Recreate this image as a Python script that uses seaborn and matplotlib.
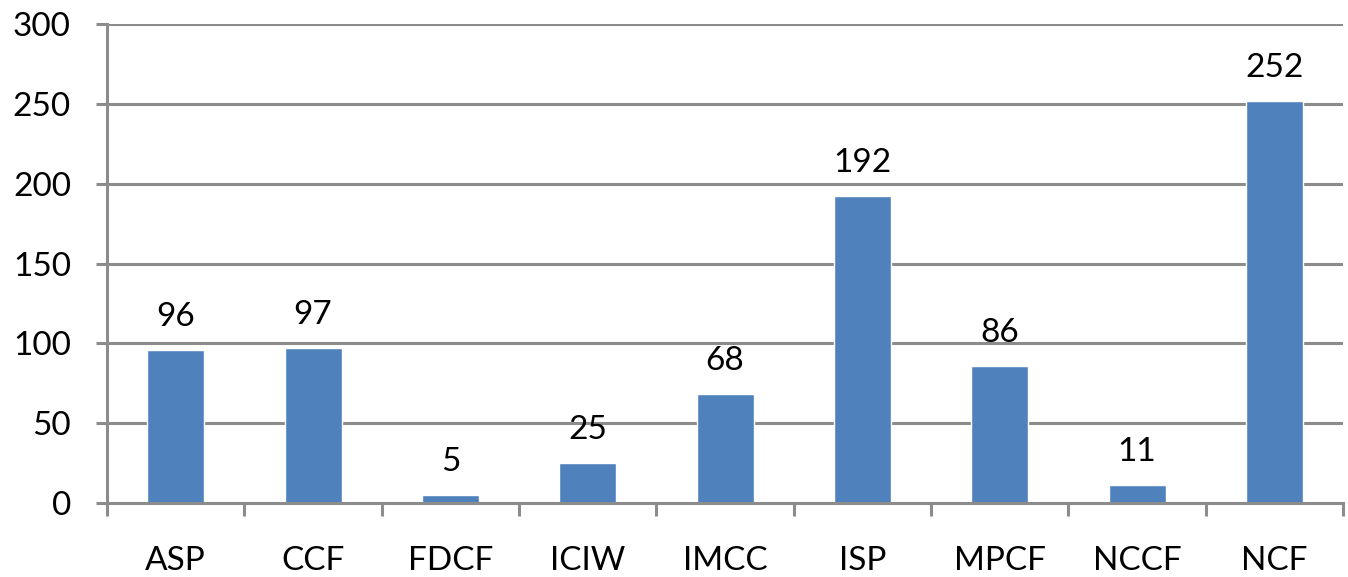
import matplotlib
matplotlib.use("Agg")
import matplotlib.pyplot as plt
import seaborn as sns
import pandas as pd
from matplotlib.ticker import FixedLocator

categories = ["ASP", "CCF", "FDCF", "ICIW", "IMCC", "ISP", "MPCF", "NCCF", "NCF"]
counts = [96, 97, 5, 25, 68, 192, 86, 11, 252]
y_ticks = [0, 50, 100, 150, 200, 250, 300]

df = pd.DataFrame({"category": categories, "count": counts})

sns.set_theme(style="white")
plt.rcParams["font.family"] = ["Lato", "DejaVu Sans"]

fig = plt.figure(figsize=(13.48, 5.77), dpi=100)
ax = fig.add_axes([0.0794, 0.1282, 0.9169, 0.8302])

bar_color = "#4F81BD"
grid_color = "#8C8C8C"

sns.barplot(data=df, x="category", y="count", color=bar_color, width=0.415,
            saturation=1, ax=ax, zorder=3)

ax.set_xlim(-0.5, len(categories) - 0.5)
ax.set_ylim(0, 300)
ax.set_yticks(y_ticks)
ax.set_yticklabels([str(v) for v in y_ticks])

for v in y_ticks[1:]:
    ax.axhline(v, color=grid_color, lw=2.2, zorder=1)

for s in ["top", "right"]:
    ax.spines[s].set_visible(False)
for s in ["left", "bottom"]:
    ax.spines[s].set_color(grid_color)
    ax.spines[s].set_linewidth(2.2)
    ax.spines[s].set_zorder(4)

ax.tick_params(axis="y", which="major", length=8, width=2.2, color=grid_color,
               pad=18, labelsize=24, labelcolor="black", left=True)
ax.tick_params(axis="x", which="major", length=0, pad=31, labelsize=24,
               labelcolor="black")
ax.xaxis.set_minor_locator(FixedLocator([i - 0.5 for i in range(len(categories) + 1)]))
ax.tick_params(axis="x", which="minor", length=9, width=2.2, color=grid_color,
               bottom=True, direction="out")
ax.set_xlabel("")
ax.set_ylabel("")

for i, v in enumerate(counts):
    ax.annotate(str(v), (i, v), xytext=(0, 13), textcoords="offset points",
                ha="center", va="bottom", fontsize=24, color="black")

fig.savefig("out.png", dpi=100)
